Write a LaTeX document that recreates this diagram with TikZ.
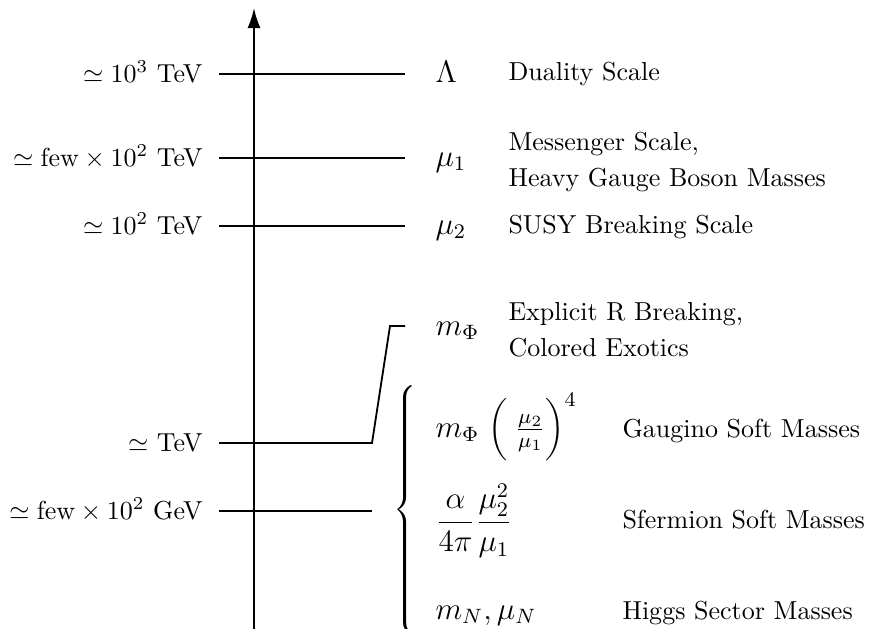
\documentclass[tikz,border=0pt]{standalone}
\usetikzlibrary{arrows.meta}
\begin{document}
\begin{tikzpicture}[x=0.3846pt,y=-0.3846pt,
  lvl/.style={line width=0.7pt},
  lab/.style={anchor=base east, inner sep=0pt},
  sym/.style={anchor=base west, inner sep=0pt, font=\large},
  desc/.style={anchor=base west, inner sep=0pt}]
\useasboundingbox (0,0) rectangle (869,628);
\clip (0,0) rectangle (869,628);
% axis
\coordinate (axb) at (254,660);
\coordinate (axt) at (254,8);
\draw[line width=0.8pt,-{Latex[length=7.7pt,width=5pt]}] (axb) -- (axt);
% level lines
\coordinate (l1a) at (219,74);  \coordinate (l1b) at (405,74);
\coordinate (l2a) at (219,158); \coordinate (l2b) at (405,158);
\coordinate (l3a) at (219,226); \coordinate (l3b) at (405,226);
\coordinate (l4a) at (219,443); \coordinate (l4k) at (372,443);
\coordinate (l4u) at (390,326); \coordinate (l4b) at (405,326);
\coordinate (l5a) at (219,511); \coordinate (l5b) at (372,511);
\draw[lvl] (l1a) -- (l1b);
\draw[lvl] (l2a) -- (l2b);
\draw[lvl] (l3a) -- (l3b);
\draw[lvl] (l4a) -- (l4k) -- (l4u) -- (l4b);
\draw[lvl] (l5a) -- (l5b);
% left labels
\node[lab] (t1) at (203,82)  {$\simeq 10^3$~TeV};
\node[lab] (t2) at (203,166) {$\simeq \mbox{few}\times 10^2$~TeV};
\node[lab] (t3) at (203,234) {$\simeq 10^2$~TeV};
\node[lab] (t4) at (203,451) {$\simeq$~TeV};
\node[lab] (t5) at (203,519) {$\simeq \mbox{few}\times 10^2$~GeV};
% right symbols
\node[sym] (s1) at (435,82)  {$\Lambda$};
\node[sym] (s2) at (435,166) {$\mu_1$};
\node[sym] (s3) at (435,234) {$\mu_2$};
\node[sym] (s4) at (435,335) {$m_\Phi$};
% descriptions
\node[desc] (d1) at (508,80)  {Duality Scale};
\node[desc] (d2a) at (508,150) {Messenger Scale,};
\node[desc] (d2b) at (508,186) {Heavy Gauge Boson Masses};
\node[desc] (d3) at (508,233) {SUSY Breaking Scale};
\node[desc] (d4a) at (508,320) {Explicit R Breaking,};
\node[desc] (d4b) at (508,356) {Colored Exotics};
% brace
\node[anchor=base west, inner sep=0pt, font=\large] (br) at (393,518)
  {$\left\{\vrule height 53pt depth 47pt width 0pt\right.$};
% soft masses
\node[sym] (e1) at (435,437) {$m_\Phi\;\bigg(\hspace{3pt}\frac{\mu_2}{\mu_1}\bigg)^4$};
\node[sym] (e2) at (435,530) {$\displaystyle\frac{\alpha}{4\pi}\frac{\mu_2^2}{\mu_1}$};
\node[sym] (e3) at (435,619) {$m_N, \mu_N$};
\node[desc] (f1) at (622,437) {Gaugino Soft Masses};
\node[desc] (f2) at (622,528) {Sfermion Soft Masses};
\node[desc] (f3) at (622,619) {Higgs Sector Masses};
\end{tikzpicture}
\end{document}
